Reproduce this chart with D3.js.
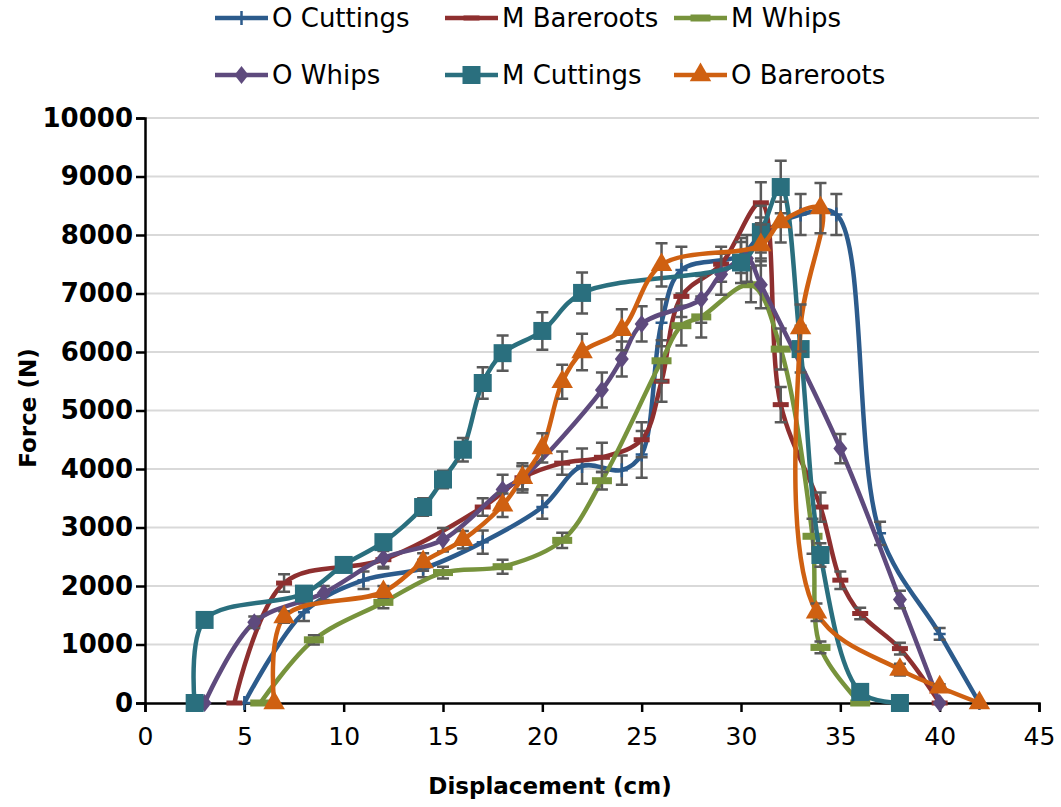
<!DOCTYPE html>
<html>
<head>
<meta charset="utf-8">
<script src="https://cdn.jsdelivr.net/npm/d3@7"></script>
<style>
  body { margin: 0; background: #fff; }
  text { font-family: "DejaVu Sans", sans-serif; }
</style>
</head>
<body>
<div id="my_dataviz"></div>
<script>
var width = 1061;
var height = 807;

// ---- data ----
var seriesNames = ["O Cuttings", "M Bareroots", "M Whips", "O Whips", "M Cuttings", "O Bareroots"];

var oCuttingsX = [5, 8, 11, 14, 17, 20, 22, 24, 25, 26, 27, 30, 31, 33, 34.8, 37, 40, 42];
var oCuttingsY = [0, 1550, 2100, 2300, 2750, 3350, 4050, 3980, 4250, 6500, 7400, 7650, 8000, 8350, 8350, 2900, 1180, 0];
var oCuttingsE = [0, 150, 150, 150, 200, 200, 300, 250, 400, 400, 400, 300, 300, 350, 350, 200, 100, 0];

var mBarerootsX = [4.5, 7, 12, 17, 19, 21, 23, 25, 26, 27, 29, 31, 32, 34, 35, 36, 38, 40];
var mBarerootsY = [0, 2050, 2450, 3350, 3850, 4100, 4200, 4500, 5500, 6950, 7500, 8550, 5100, 3350, 2100, 1530, 930, 0];
var mBarerootsE = [0, 150, 150, 150, 200, 200, 250, 300, 350, 350, 300, 350, 300, 250, 150, 100, 100, 0];

var mWhipsX = [5.8, 8.5, 12, 15, 18, 21, 23, 26, 27, 28, 30.5, 32, 33.6, 34, 36];
var mWhipsY = [0, 1080, 1720, 2230, 2330, 2780, 3800, 5850, 6450, 6600, 7150, 6050, 2850, 950, 0];
var mWhipsE = [0, 80, 100, 100, 120, 130, 150, 350, 340, 350, 300, 350, 300, 100, 0];

var oWhipsX = [3, 5.5, 9, 12, 15, 18, 19, 23, 24, 25, 28, 29, 30.3, 31, 35, 38, 40];
var oWhipsY = [0, 1380, 1880, 2480, 2790, 3650, 3850, 5350, 5880, 6480, 6900, 7330, 7600, 7150, 4350, 1770, 0];
var oWhipsE = [0, 100, 120, 150, 200, 250, 250, 300, 300, 300, 400, 350, 400, 400, 250, 150, 0];

var mCuttingsX = [2.5, 3, 8, 10, 12, 14, 15, 16, 17, 18, 20, 22, 30, 31, 32, 33, 34, 36, 38];
var mCuttingsY = [0, 1420, 1870, 2360, 2750, 3350, 3820, 4330, 5470, 5980, 6360, 7010, 7530, 8050, 8820, 6050, 2530, 190, 0];
var mCuttingsE = [0, 50, 100, 100, 100, 150, 150, 200, 270, 300, 320, 350, 350, 450, 450, 400, 200, 50, 0];

var oBarerootsX = [6.5, 7, 12, 14, 16, 18, 19, 20, 21, 22, 24, 26, 31, 32, 34, 33, 33.8, 38, 40, 42];
var oBarerootsY = [0, 1470, 1900, 2410, 2790, 3380, 3850, 4360, 5490, 6000, 6380, 7490, 7830, 8220, 8460, 6410, 1550, 570, 270, 0];
var oBarerootsE = [0, 100, 100, 150, 150, 200, 200, 250, 290, 310, 350, 370, 350, 350, 430, 400, 150, 100, 50, 0];

var xTicks = [0, 5, 10, 15, 20, 25, 30, 35, 40, 45];
var yTicks = [0, 1000, 2000, 3000, 4000, 5000, 6000, 7000, 8000, 9000, 10000];

var colors = ["#2C5B8C", "#8E2F2F", "#77933C", "#5E4A7D", "#2A6F7E", "#CF6011"];
var markers = ["plus", "dash", "bar", "diamond", "square", "triangle"];

function pack(xs, ys, es) {
  return xs.map(function(d, i) { return {x: d, y: ys[i], e: es[i]}; });
}
var allSeries = [
  pack(oCuttingsX, oCuttingsY, oCuttingsE),
  pack(mBarerootsX, mBarerootsY, mBarerootsE),
  pack(mWhipsX, mWhipsY, mWhipsE),
  pack(oWhipsX, oWhipsY, oWhipsE),
  pack(mCuttingsX, mCuttingsY, mCuttingsE),
  pack(oBarerootsX, oBarerootsY, oBarerootsE)
];

var svg = d3.select("#my_dataviz")
  .append("svg")
    .attr("width", width)
    .attr("height", height);

svg.append("rect").attr("width", width).attr("height", height).style("fill", "white");

var x = d3.scaleLinear().domain([0, 45]).range([145, 1039]);
var y = d3.scaleLinear().domain([0, 10000]).range([703, 118]);

// gridlines
svg.selectAll("grid")
  .data(yTicks.slice(1))
  .enter()
  .append("line")
    .attr("x1", x(0)).attr("x2", x(45))
    .attr("y1", function(d) { return y(d); })
    .attr("y2", function(d) { return y(d); })
    .style("stroke", "#D9D9D9")
    .style("stroke-width", 2);

// axes
var yAxis = svg.append("g")
  .attr("transform", "translate(" + x(0) + ",0)")
  .call(d3.axisLeft(y).tickValues(yTicks).tickSize(9).tickPadding(3).tickFormat(d3.format("d")));
yAxis.selectAll("text")
  .style("font-size", "26px").style("font-weight", "bold").style("fill", "#000");

var xAxis = svg.append("g")
  .attr("transform", "translate(0," + y(0) + ")")
  .call(d3.axisBottom(x).tickValues(xTicks).tickSize(9).tickPadding(15));
xAxis.selectAll("text")
  .style("font-size", "25px").style("fill", "#000");

svg.selectAll(".domain, .tick line").style("stroke", "#000").style("stroke-width", 2.5);

svg.append("text")
  .attr("x", 550).attr("y", 794)
  .attr("text-anchor", "middle")
  .style("font-size", "23px").style("font-weight", "bold")
  .text("Displacement (cm)");

svg.append("text")
  .attr("transform", "translate(36,408) rotate(-90)")
  .attr("text-anchor", "middle")
  .style("font-size", "23px").style("font-weight", "bold")
  .text("Force (N)");

// marker drawing
function drawMarker(g, type, color) {
  if (type == "square") {
    g.append("rect").attr("x", -9).attr("y", -9).attr("width", 18).attr("height", 18).style("fill", color);
  } else if (type == "triangle") {
    g.append("path").attr("d", d3.symbol().type(d3.symbolTriangle).size(200)()).style("fill", color);
  } else if (type == "diamond") {
    g.append("path").attr("d", "M0,-9L7,0L0,9L-7,0Z").style("fill", color);
  } else if (type == "plus") {
    g.append("path").attr("d", "M-6,0H6M0,-7V7").style("stroke", color).style("stroke-width", 2.5);
  } else if (type == "dash") {
    g.append("rect").attr("x", -8).attr("y", -2.5).attr("width", 16).attr("height", 5).style("fill", color);
  } else if (type == "bar") {
    g.append("rect").attr("x", -10).attr("y", -3.5).attr("width", 20).attr("height", 7).style("fill", color);
  }
}

var line = d3.line()
  .x(function(d) { return x(d.x); })
  .y(function(d) { return y(d.y); })
  .curve(d3.curveCatmullRom.alpha(0.5));

allSeries.forEach(function(data, s) {
  var g = svg.append("g");
  g.append("path")
    .datum(data)
    .attr("d", line)
    .style("fill", "none")
    .style("stroke", colors[s])
    .style("stroke-width", 4.5)
    .style("stroke-linejoin", "round");

  // error bars
  g.selectAll("eb").data(data.filter(function(d) { return d.e > 0; })).enter().append("path")
    .attr("d", function(d) {
      var px = x(d.x), y1 = y(d.y + d.e), y2 = y(d.y - d.e);
      return "M" + px + "," + y1 + "V" + y2 + "M" + (px - 6) + "," + y1 + "H" + (px + 6) + "M" + (px - 6) + "," + y2 + "H" + (px + 6);
    })
    .style("stroke", "#595959")
    .style("stroke-width", 2.5)
    .style("fill", "none");

  data.forEach(function(d) {
    var m = g.append("g").attr("transform", "translate(" + x(d.x) + "," + y(d.y) + ")");
    drawMarker(m, markers[s], colors[s]);
  });
});

// legend
var legX = [215, 445, 674];
var legY = [18, 75];
seriesNames.forEach(function(name, i) {
  var lx = legX[i % 3], ly = legY[Math.floor(i / 3)];
  var lg = svg.append("g");
  lg.append("line")
    .attr("x1", lx).attr("x2", lx + 53).attr("y1", ly).attr("y2", ly)
    .style("stroke", colors[i]).style("stroke-width", 4.5);
  var m = lg.append("g").attr("transform", "translate(" + (lx + 26.5) + "," + ly + ")");
  drawMarker(m, markers[i], colors[i]);
  lg.append("text")
    .attr("x", lx + 57).attr("y", ly)
    .attr("dy", "0.35em")
    .style("font-size", "26px")
    .style("font-weight", 500)
    .text(name);
});
</script>
</body>
</html>
